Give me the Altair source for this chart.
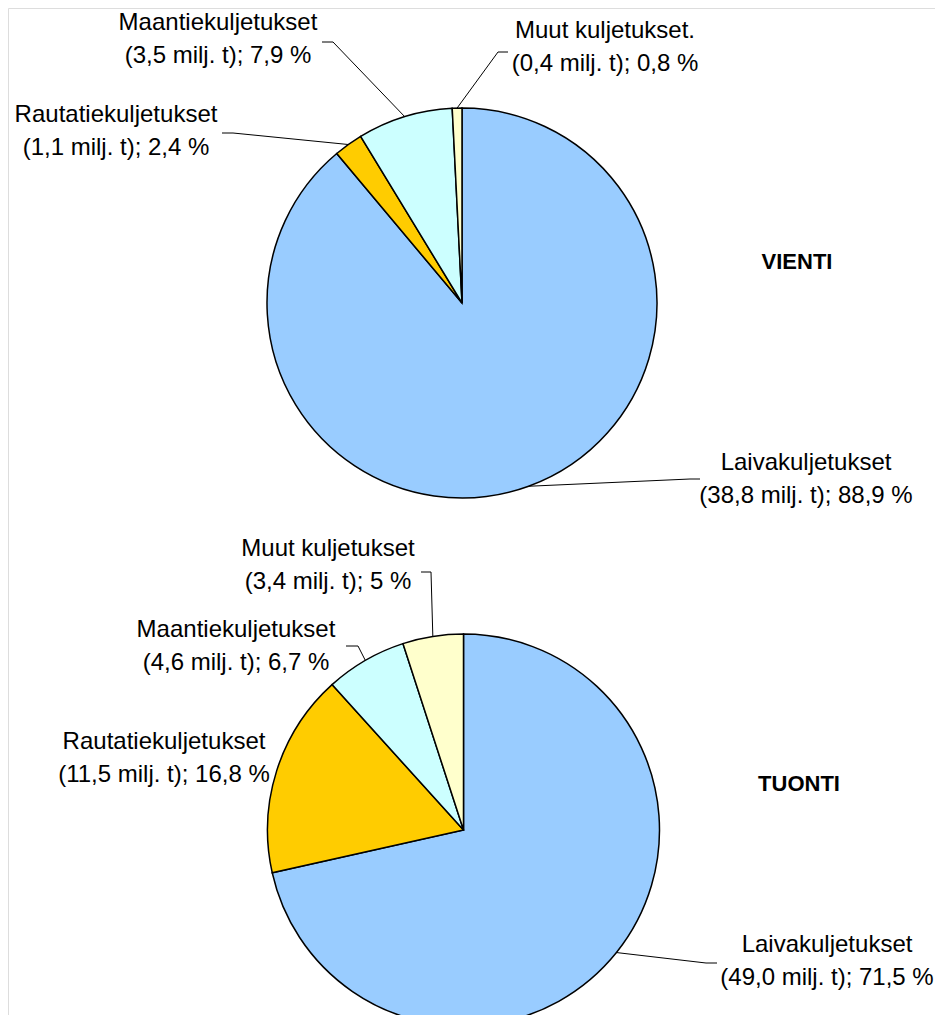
import math
import altair as alt
import pandas as pd

# ---- data ----
modes = ["Laivakuljetukset", "Rautatiekuljetukset", "Maantiekuljetukset", "Muut kuljetukset"]
vienti_names = ["Laivakuljetukset", "Rautatiekuljetukset", "Maantiekuljetukset", "Muut kuljetukset."]
vienti_milj = [38.8, 1.1, 3.5, 0.4]
vienti_pct = [88.9, 2.4, 7.9, 0.8]
tuonti_names = ["Laivakuljetukset", "Rautatiekuljetukset", "Maantiekuljetukset", "Muut kuljetukset"]
tuonti_milj = [49.0, 11.5, 4.6, 3.4]
tuonti_pct = [71.5, 16.8, 6.7, 5.0]
colors = ["#99CCFF", "#FFCC00", "#CCFFFF", "#FFFFCC"]
titles = ["VIENTI", "TUONTI"]

# ---- layout (pixels, chart coordinates) ----
W, H = 927, 1007
pies = [dict(cx=454, cy=295, r=195), dict(cx=455.5, cy=822, r=196)]
# label anchors (centre of first line)
label_pos = [
    [(798, 455), (108, 107), (210, 15), (597, 23)],
    [(819, 937), (156, 734), (228, 622), (320, 541)],
]
# leader elbows and ends (None = no leader)
leader_pts = [
    [((682, 471), (692, 471)), ((225, 125), (214, 125)), ((325, 34), (314, 34)), ((490, 44), (500, 44))],
    [((698, 955), (709, 955)), None, ((350, 638), (338, 638)), ((423, 564), (413, 564))],
]
title_pos = [(789, 254), (791, 776)]

FONT = "Liberation Sans"
FS = 24


def num(v):
    return f"{v:.1f}".replace(".", ",")


def pct(v):
    return f"{v:g}".replace(".", ",")


layers = []
text_rows = []
leader_rows = []
for k, (names, milj, pcts) in enumerate(
    [(vienti_names, vienti_milj, vienti_pct), (tuonti_names, tuonti_milj, tuonti_pct)]
):
    p = pies[k]
    df = pd.DataFrame({"mode": modes, "value": pcts, "idx": list(range(4))})
    arc = (
        alt.Chart(df)
        .mark_arc(stroke="black", strokeWidth=1.5, radius=p["r"])
        .encode(
            theta=alt.Theta("value:Q", stack=True),
            color=alt.Color("mode:N", scale=alt.Scale(domain=modes, range=colors), legend=None),
            order=alt.Order("idx:Q"),
            x=alt.value(p["cx"]),
            y=alt.value(p["cy"]),
        )
    )
    layers.append(arc)
    total = sum(pcts)
    cum = 0.0
    for i in range(4):
        mid = (cum + pcts[i] / 2) / total * 2 * math.pi
        cum += pcts[i]
        ex = p["cx"] + p["r"] * math.sin(mid)
        ey = p["cy"] - p["r"] * math.cos(mid)
        lx, ly = label_pos[k][i]
        text_rows.append(
            {"x": lx, "y": ly, "t": [names[i], f"({num(milj[i])} milj. t); {pct(pcts[i])} %"]}
        )
        lp = leader_pts[k][i]
        if lp is not None:
            lid = f"{k}-{i}"
            leader_rows.append({"id": lid, "o": 0, "x": ex, "y": ey})
            leader_rows.append({"id": lid, "o": 1, "x": lp[0][0], "y": lp[0][1]})
            leader_rows.append({"id": lid, "o": 2, "x": lp[1][0], "y": lp[1][1]})

leaders = (
    alt.Chart(pd.DataFrame(leader_rows))
    .mark_line(color="black", strokeWidth=1)
    .encode(
        x=alt.X("x:Q", scale=None, axis=None),
        y=alt.Y("y:Q", scale=None, axis=None),
        detail="id:N",
        order="o:Q",
    )
)

labels = (
    alt.Chart(pd.DataFrame(text_rows))
    .mark_text(font=FONT, fontSize=FS, lineHeight=33, align="center", baseline="middle", color="black")
    .encode(
        x=alt.X("x:Q", scale=None, axis=None),
        y=alt.Y("y:Q", scale=None, axis=None),
        text="t",
    )
)

title_df = pd.DataFrame({"x": [t[0] for t in title_pos], "y": [t[1] for t in title_pos], "t": titles})
title_marks = (
    alt.Chart(title_df)
    .mark_text(font=FONT, fontSize=22, fontWeight="bold", align="center", baseline="middle", color="black")
    .encode(
        x=alt.X("x:Q", scale=None, axis=None),
        y=alt.Y("y:Q", scale=None, axis=None),
        text="t:N",
    )
)

chart = (
    alt.layer(*layers, leaders, labels, title_marks)
    .resolve_scale(theta="independent")
    .properties(width=W, height=H, autosize=alt.AutoSizeParams(type="none"), padding=0)
    .configure_view(stroke="transparent", strokeWidth=0)
    .configure(background="white")
)

chart.save("out.html", embed_options={"renderer": "svg", "actions": False})
